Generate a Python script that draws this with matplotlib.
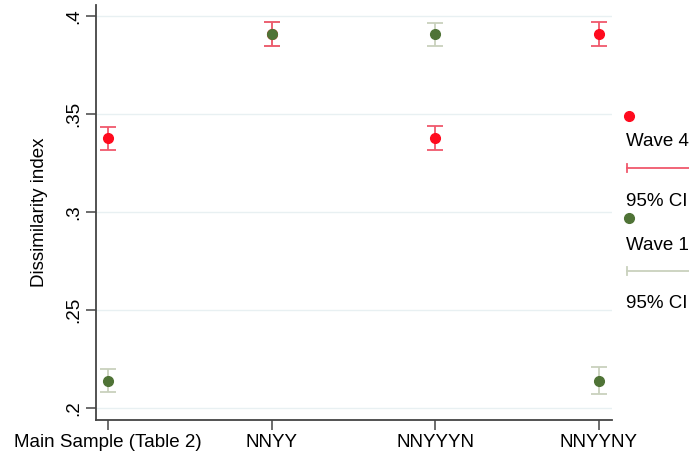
import matplotlib
matplotlib.use("Agg")
import matplotlib.pyplot as plt
import numpy as np
from matplotlib.lines import Line2D

plt.rcParams['font.family'] = ['Liberation Sans', 'DejaVu Sans']

categories = ["Main Sample (Table 2)", "NNYY", "NNYYYN", "NNYYNY"]
wave4 = [0.3376, 0.3907, 0.3378, 0.3907]
wave4_lo = [0.3316, 0.3847, 0.3318, 0.3847]
wave4_hi = [0.3436, 0.3967, 0.3438, 0.3967]
wave1 = [0.2139, 0.3908, 0.3906, 0.2139]
wave1_lo = [0.2080, 0.3848, 0.3846, 0.2073]
wave1_hi = [0.2199, 0.3968, 0.3966, 0.2207]
yticks = [0.2, 0.25, 0.3, 0.35, 0.4]
ytick_labels = [".2", ".25", ".3", ".35", ".4"]

red = "#ff0a1e"
red_ci = "#f0586c"
green = "#4f7336"
green_ci = "#c9d1bd"
fs = 13.5

fig = plt.figure(figsize=(6.89, 4.55), dpi=100)
ax = fig.add_axes([96/689, 35/455, (612-96)/689, (455-35-5)/455])

x = np.arange(len(categories))
w4 = np.array(wave4)
w1 = np.array(wave1)

ax.errorbar(x, w1, yerr=[w1 - np.array(wave1_lo), np.array(wave1_hi) - w1],
            fmt='none', ecolor=green_ci, elinewidth=1.3, capsize=6, capthick=1.3, zorder=2)
ax.errorbar(x, w4, yerr=[w4 - np.array(wave4_lo), np.array(wave4_hi) - w4],
            fmt='none', ecolor=red_ci, elinewidth=1.3, capsize=6, capthick=1.3, zorder=3)
ax.plot(x, w4, 'o', color=red, ms=7, zorder=4)
ax.plot(x, w1, 'o', color=green, ms=7, zorder=5)

ax.set_xlim(-0.073, 3.08)
ax.set_ylim(0.2 - 12/98*0.05, 0.4 + 11/98*0.05)
ax.set_xticks(x)
ax.set_xticklabels(categories, fontsize=fs)
ax.set_yticks(yticks)
ax.set_yticklabels(ytick_labels, fontsize=fs, rotation=90, va='center')
ax.set_ylabel("Dissimilarity index", fontsize=fs, labelpad=12)

ax.grid(axis='y', color='#e8f0f2', lw=1)
ax.set_axisbelow(True)
for s in ['top', 'right']:
    ax.spines[s].set_visible(False)
for s in ['left', 'bottom']:
    ax.spines[s].set_color('#444444')
    ax.spines[s].set_linewidth(1.3)
ax.tick_params(length=7, width=1.1, color='#444444', pad=3)

# legend drawn at the right, running off the figure edge
def fy(py):
    return 1 - py/455

def fx(px):
    return px/689

fig.add_artist(Line2D([fx(629)], [fy(116)], marker='o', color=red, ms=7, ls='none'))
fig.text(fx(626), fy(142), "Wave 4", fontsize=fs, va='center', ha='left')
fig.add_artist(Line2D([fx(627), fx(700)], [fy(168), fy(168)], color=red_ci, lw=1.3))
fig.add_artist(Line2D([fx(627), fx(627)], [fy(164), fy(172)], color=red_ci, lw=1.3))
fig.text(fx(626), fy(202), "95% CI", fontsize=fs, va='center', ha='left')
fig.add_artist(Line2D([fx(629)], [fy(218)], marker='o', color=green, ms=7, ls='none'))
fig.text(fx(626), fy(245), "Wave 1", fontsize=fs, va='center', ha='left')
fig.add_artist(Line2D([fx(627), fx(700)], [fy(271), fy(271)], color=green_ci, lw=1.3))
fig.add_artist(Line2D([fx(627), fx(627)], [fy(267), fy(275)], color=green_ci, lw=1.3))
fig.text(fx(626), fy(303), "95% CI", fontsize=fs, va='center', ha='left')

fig.savefig("out.png", dpi=100)
